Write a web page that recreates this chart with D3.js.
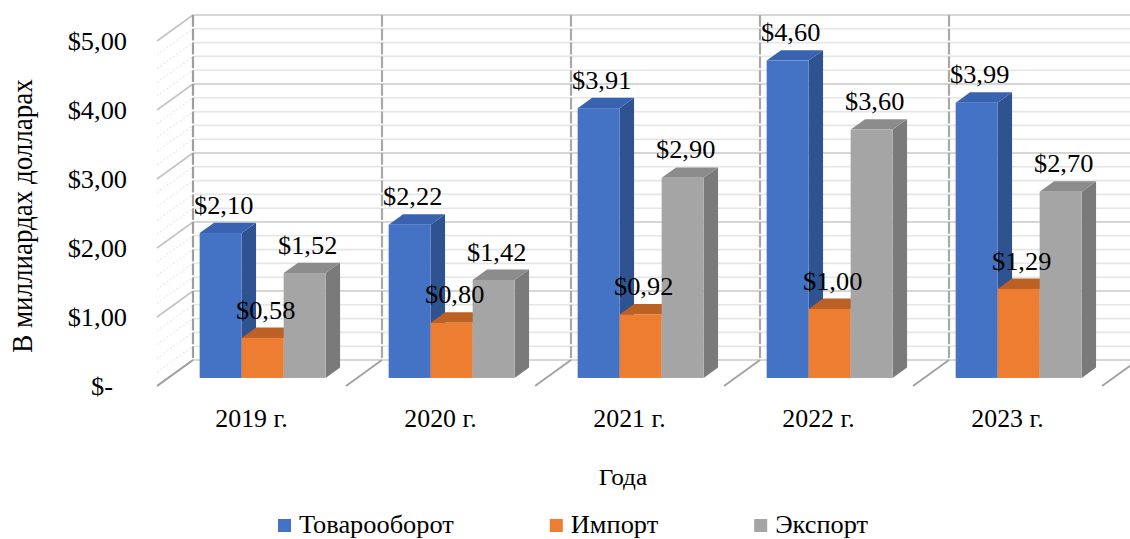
<!DOCTYPE html>
<html>
<head>
<meta charset="utf-8">
<script src="https://cdn.jsdelivr.net/npm/d3@7"></script>
<style>
    body { margin: 0; background: #fff; }
    svg { display: block; font-family: "Liberation Serif", "Times New Roman", serif; }
</style>
</head>
<body>
<svg width="1130" height="539"></svg>
<script>
// data
var years = ["2019 г.", "2020 г.", "2021 г.", "2022 г.", "2023 г."];
var seriesNames = ["Товарооборот", "Импорт", "Экспорт"];
var turnover = [2.10, 2.22, 3.91, 4.60, 3.99];
var imports = [0.58, 0.80, 0.92, 1.00, 1.29];
var exports = [1.52, 1.42, 2.90, 3.60, 2.70];
var tickValues = [0, 1, 2, 3, 4, 5];
var tickLabels = ["$-", "$1,00", "$2,00", "$3,00", "$4,00", "$5,00"];

var svg = d3.select("svg");
var SX = 1.055;        // text is slightly wider than the font, like the source picture
var DX = 36, DY = -26; // depth of the 3d box
var z0 = 0.31, z1 = 0.71;

var colors = {
    "Товарооборот": { front: "#4472C4", side: "#2F5290", top: "#3A63AF" },
    "Импорт": { front: "#ED7D31", side: "#B35C1F", top: "#BC6125" },
    "Экспорт": { front: "#A5A5A5", side: "#7A7A7A", top: "#8C8C8C" }
};

var x = d3.scaleBand().domain(years).range([157, 1102]);
var xs = d3.scaleBand().domain(seriesNames).range([0, x.bandwidth()])
    .paddingInner(0).paddingOuter(0.75);
var y = d3.scaleLinear().domain([0, 5]).range([386, 41]);

function P(px, v, z) {
    return [px + z * DX, y(v) + z * DY];
}

function txt(g, str, px, py, size, anchor, rot) {
    return g.append("text")
        .attr("transform", "translate(" + px + "," + py + ") scale(" + SX + ",1)" + (rot ? " rotate(" + rot + ")" : ""))
        .attr("text-anchor", anchor)
        .attr("font-size", size)
        .attr("fill", "#000")
        .text(str);
}

var grid = svg.append("g");
var x0 = x.range()[0], x1 = x.range()[1];

// back wall + side wall gridlines (major every 1, minor every 0.2)
d3.range(0, 26).forEach(function (i) {
    var v = i / 5;
    var major = i % 5 === 0;
    var a = P(x0, v, 0), b = P(x0, v, 1), c = P(x1 + 40, v, 1);
    grid.append("line")
        .attr("x1", b[0]).attr("y1", b[1]).attr("x2", c[0]).attr("y2", c[1])
        .attr("stroke", major ? "#D6D6D6" : "#E6E6E6").attr("stroke-width", major ? 2 : 1.6);
    grid.append("line")
        .attr("x1", a[0]).attr("y1", a[1]).attr("x2", b[0]).attr("y2", b[1])
        .attr("stroke", major ? "#C4C4C4" : "#E8E8E8").attr("stroke-width", major ? 1.6 : 1.2)
        .attr("stroke-dasharray", major ? null : "2,2");
});

// category dividers: on the back wall and across the floor
d3.range(0, years.length + 1).forEach(function (k) {
    var px = x0 + k * x.step();
    var top = P(px, 5, 1), bot = P(px, 0, 1), fr = P(px, 0, 0);
    grid.append("line")
        .attr("x1", top[0]).attr("y1", top[1]).attr("x2", bot[0]).attr("y2", bot[1])
        .attr("stroke", k === 0 ? "#9E9E9E" : "#A8A8A8").attr("stroke-width", 2.2)
        .attr("stroke-dasharray", "11.8,2");
    grid.append("line")
        .attr("x1", fr[0]).attr("y1", fr[1]).attr("x2", bot[0]).attr("y2", bot[1])
        .attr("stroke", "#A0A0A0").attr("stroke-width", 1.8);
});

// bars
var data = [];
years.forEach(function (yr, i) {
    data.push({ year: yr, s: "Товарооборот", v: turnover[i] });
    data.push({ year: yr, s: "Импорт", v: imports[i] });
    data.push({ year: yr, s: "Экспорт", v: exports[i] });
});

function poly(pts) {
    return "M" + pts.map(function (p) { return p[0] + "," + p[1]; }).join("L") + "Z";
}

var bars = svg.append("g");
data.forEach(function (d) {
    var l = x(d.year) + xs(d.s), r = l + xs.bandwidth();
    var c = colors[d.s];
    // side
    bars.append("path")
        .attr("d", poly([P(r, 0, z0), P(r, d.v, z0), P(r, d.v, z1), P(r, 0, z1)]))
        .attr("fill", c.side);
    // top
    bars.append("path")
        .attr("d", poly([P(l, d.v, z0), P(r, d.v, z0), P(r, d.v, z1), P(l, d.v, z1)]))
        .attr("fill", c.top);
    // front
    var f0 = P(l, d.v, z0), f1 = P(r, 0, z0);
    bars.append("rect")
        .attr("x", f0[0]).attr("y", f0[1])
        .attr("width", f1[0] - f0[0]).attr("height", f1[1] - f0[1])
        .attr("fill", c.front);
});

// value labels, a bit above the back edge of each bar top
var labels = svg.append("g");
data.forEach(function (d) {
    var l = x(d.year) + xs(d.s);
    var px = P(l + xs.bandwidth() / 2, d.v, z0)[0] + 3;
    var py = P(l, d.v, z1)[1] - 9;
    txt(labels, "$" + d.v.toFixed(2).replace(".", ","), px, py, 25, "middle");
});

// y axis labels
var axisG = svg.append("g");
tickValues.forEach(function (v, i) {
    txt(axisG, tickLabels[i], v === 0 ? 113 : 127, y(v) + 9, 25, "end");
});

// category labels
years.forEach(function (yr) {
    txt(axisG, yr, x(yr) + x.bandwidth() / 2, 427, 24.5, "middle");
});

// axis titles
txt(axisG, "Года", 623, 485, 24, "middle");
txt(axisG, "В миллиардах долларах", 32, 216, 27, "middle", -90);

// legend
var legend = svg.append("g");
var lx = 278;
seriesNames.forEach(function (s) {
    legend.append("rect")
        .attr("x", lx).attr("y", 519).attr("width", 13).attr("height", 13)
        .attr("fill", colors[s].front);
    var t = txt(legend, s, lx + 21, 533, 25, "start");
    lx += 21 + t.node().getComputedTextLength() * SX + 96;
});
</script>
</body>
</html>
